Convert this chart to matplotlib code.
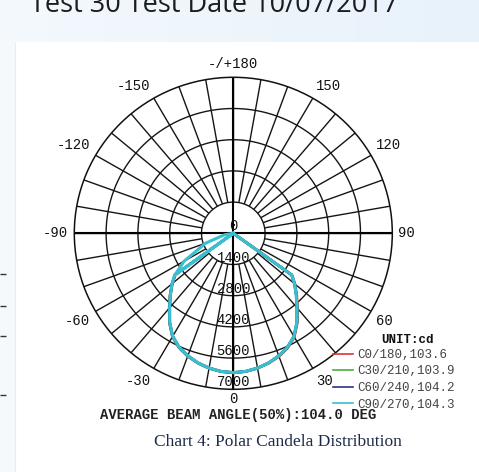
import numpy as np
import matplotlib.pyplot as plt
from matplotlib.lines import Line2D
from matplotlib.patches import Rectangle

W, H = 479, 472
DPI = 100

# --- DATOS (cd) ---
# plano C90/270 tal como se ve en la figura (lado izquierdo con doble trazo)
c90_gamma = [-90, -80, -70, -60, -54, -60, -54, -50, -45, -40, -35, -30, -25, -20, -15, -10, -5, 0,
             5, 10, 15, 20, 25, 30, 35, 40, 45, 50, 54, 60]
c90_cd = [0, 400, 1300, 2500, 3180, 0, 3180, 3520, 3920, 4360, 4880, 5340, 5640, 5850, 6020, 6140, 6220, 6250,
          6220, 6140, 6020, 5850, 5640, 5340, 4880, 4360, 3920, 3520, 3180, 0]

# planos C0/180, C30/210, C60/240 (casi tapados por el cian)
gamma = [-60, -54, -50, -45, -40, -35, -30, -25, -20, -15, -10, -5, 0,
         5, 10, 15, 20, 25, 30, 35, 40, 45, 50, 54, 60]
c0_cd = [0, 3150, 3500, 3940, 4390, 4900, 5360, 5660, 5870, 6030, 6150, 6230, 6260,
         6230, 6150, 6030, 5880, 5670, 5370, 4910, 4400, 3950, 3540, 3170, 0]
c30_cd = [0, 3170, 3510, 3930, 4370, 4890, 5340, 5650, 5860, 6020, 6140, 6220, 6250,
          6220, 6140, 6020, 5860, 5650, 5350, 4890, 4370, 3930, 3520, 3180, 0]
c60_cd = [0, 3180, 3520, 3920, 4360, 4880, 5340, 5640, 5850, 6020, 6140, 6220, 6250,
          6220, 6140, 6020, 5850, 5640, 5340, 4880, 4360, 3920, 3520, 3180, 0]

legend_labels = ["C0/180,103.6", "C30/210,103.9", "C60/240,104.2", "C90/270,104.3"]
ring_values = [1400, 2800, 4200, 5600, 7000]
angle_ticks = [0, 30, 60, 90, 120, 150, 180, -150, -120, -90, -60, -30]
angle_labels = ["0", "30", "60", "90", "120", "150", "-/+180", "-150", "-120", "-90", "-60", "-30"]
beam_text = "AVERAGE BEAM ANGLE(50%):104.0 DEG"
caption = "Chart 4: Polar Candela Distribution"
header = "Test 30 Test Date 10/07/2017"

colores = ['#e0303c', '#4caf3c', '#2c3580', '#38bfd0']
MONO = 'Liberation Mono'

fig = plt.figure(figsize=(W / DPI, H / DPI), dpi=DPI)
fig.patch.set_facecolor('white')

# --- FONDO DE LA PÁGINA ---
bg = fig.add_axes([0, 0, 1, 1])
bg.set_axis_off()
grad = np.linspace(0, 1, 256)[None, :, None]
c1 = np.array([0.955, 0.975, 0.99])
c2 = np.array([0.91, 0.95, 0.985])
img = c1 + (c2 - c1) * grad
bg.imshow(img, extent=(0, W, 42, 0), aspect='auto')
bg.add_patch(Rectangle((0, 42), 15, H - 42, color='#f6f9fc', lw=0))
bg.vlines(15, 42, H, color='#e6ebf0', lw=0.8)
bg.hlines([274, 306, 336, 395], 0, 6, color='#333333', lw=1)
bg.set_xlim(0, W)
bg.set_ylim(H, 0)

fig.text(30 / W, 1 - 12 / H, header, fontsize=19.5, family='Open Sans',
         color='#1c1c1c', va='baseline', ha='left')

# --- GRÁFICO POLAR ---
ax = fig.add_axes([74.3 / W, (H - 389.3) / H, 318 / W, 312 / H], projection='polar')
ax.set_aspect('auto')
ax.set_theta_zero_location('S')
ax.set_theta_direction(1)
ax.set_ylim(0, 7000)
ax.grid(False)
ax.set_xticks([])
ax.set_yticks([])
ax.set_facecolor('white')
ax.spines['polar'].set_color('#111111')
ax.spines['polar'].set_linewidth(1.1)

th = np.linspace(0, 2 * np.pi, 721)
for rv in ring_values[:-1]:
    ax.plot(th, np.full_like(th, rv), color='#151515', lw=1.0, zorder=1)
ax.vlines(np.deg2rad(np.arange(0, 360, 10)), ring_values[0], ring_values[-1],
          colors='#151515', lw=1.0, zorder=1)
ax.vlines(np.deg2rad([0, 90, 180, 270]), 0, ring_values[-1], colors='#000000', lw=1.5, zorder=1.2)

# curvas
ax.plot(np.deg2rad(gamma), c0_cd, color=colores[0], lw=2.0, zorder=2)
ax.plot(np.deg2rad(gamma), c30_cd, color=colores[1], lw=2.0, zorder=2.1)
ax.plot(np.deg2rad(gamma), c60_cd, color=colores[2], lw=2.0, zorder=2.2)
ax.plot(np.deg2rad(c90_gamma), c90_cd, color=colores[3], lw=2.2, zorder=2.3)

# etiquetas radiales
for rv in [0] + ring_values:
    ax.text(0, rv, str(rv), ha='center', va='bottom', fontsize=10, family=MONO,
            color='#111111', zorder=3)

# etiquetas angulares
r_lab = 7270
for a, lab in zip(angle_ticks, angle_labels):
    s, c = np.sin(np.deg2rad(a)), np.cos(np.deg2rad(a))
    ha = 'left' if s > 0.3 else ('right' if s < -0.3 else 'center')
    va = 'top' if c > 0.3 else ('bottom' if c < -0.3 else 'center')
    r = 7120 if a == 0 else r_lab
    ax.text(np.deg2rad(a), r, lab, ha=ha, va=va, fontsize=10, family=MONO,
            color='#111111', clip_on=False)

# leyenda
handles = [Line2D([], [], color=col, lw=1.2) for col in colores]
leg = fig.legend(handles, legend_labels, loc='upper left',
                 bbox_to_anchor=(333 / W, 1 - 349 / H), frameon=False,
                 prop={'family': MONO, 'size': 9}, handlelength=1.6,
                 handletextpad=0.3, labelspacing=0.36, borderpad=0, borderaxespad=0)
for t in leg.get_texts():
    t.set_color('#444444')

fig.text(407 / W, 1 - 340 / H, "UNIT:cd", ha='center', va='center', fontsize=9,
         family=MONO, weight='bold', color='#111111')
fig.text(238 / W, 1 - 415.5 / H, beam_text, ha='center', va='center', fontsize=10,
         family=MONO, weight='bold', color='#222222')
fig.text(278 / W, 1 - 442 / H, caption, ha='center', va='center', fontsize=12.5,
         family='Liberation Serif', color='#1d2a4a')

plt.savefig('out.png', dpi=DPI)
plt.close()
